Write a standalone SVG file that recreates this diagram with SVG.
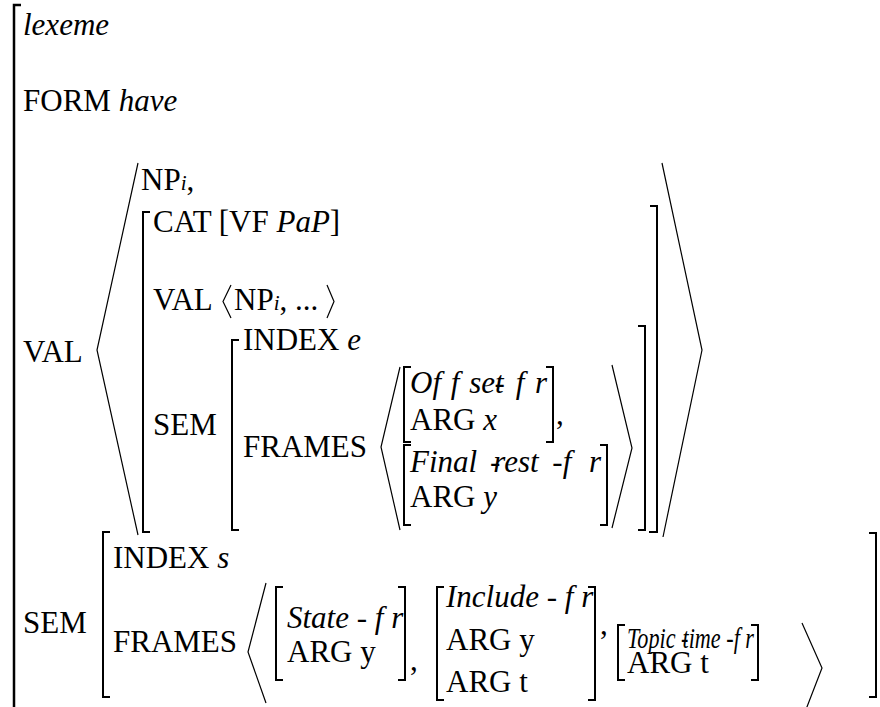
<svg xmlns="http://www.w3.org/2000/svg" width="880" height="707" viewBox="0 0 880 707">
<style>
text{font-family:"Liberation Serif","Times New Roman",serif;font-size:31px;fill:#000}
.i{font-style:italic}
.sub{font-style:italic;font-size:21px}
.br{fill:none;stroke:#000;stroke-width:2}
.ang{fill:none;stroke:#000;stroke-width:1.2}
</style>
<rect width="880" height="707" fill="#fff"/>
<g id="outer">
<path class="br" d="M21,5 H14 V707" style="stroke-width:2.5"/>
<text x="23" y="35" class="i">lexeme</text>
<text x="23" y="111">FORM <tspan class="i">have</tspan></text>
<text x="23" y="362">VAL</text>
<text x="23" y="633">SEM</text>
</g>
<g id="val-list">
<path class="ang" d="M138,163 L97,350 L138,535"/>
<path class="ang" d="M662,163 L702,350 L663,537"/>
<text x="141" y="190">NP<tspan class="sub">i</tspan>,</text>
</g>
<g id="val-item">
<path class="br" d="M150,212 H143 V532 H150"/>
<path class="br" d="M650,206 H657 V532 H649"/>
<text x="153" y="232">CAT [VF <tspan class="i">PaP</tspan>]</text>
<text x="153" y="310">VAL</text>
<path class="ang" d="M231,285 L223,301.5 L231,318"/>
<text x="234" y="310">NP<tspan class="sub">i</tspan>, ...</text>
<path class="ang" d="M327,285 L334,301.5 L327,318"/>
<text x="153" y="435">SEM</text>
</g>
<g id="val-sem">
<path class="br" d="M239,340 H232 V530 H239"/>
<path class="br" d="M638,326 H645 V530 H638"/>
<text x="243" y="350">INDEX <tspan class="i">e</tspan></text>
<text x="243" y="457">FRAMES</text>
<path class="ang" d="M400,367 L381,447 L400,530"/>
<path class="ang" d="M612,365 L632,448 L612,528"/>
</g>
<g id="offset-fr">
<path class="br" d="M411,367 H404 V442 H411"/>
<path class="br" d="M546,367 H553 V442 H546"/>
<text x="410" y="393" class="i">Of<tspan dx="2"> f</tspan><tspan dx="2"> set</tspan><tspan dx="-9">-</tspan><tspan dx="3"> f</tspan><tspan dx="3"> r</tspan></text>
<text x="410" y="430">ARG <tspan class="i">x</tspan></text>
<text x="556" y="424">,</text>
</g>
<g id="final-rest-fr">
<path class="br" d="M411,445 H404 V525 H411"/>
<path class="br" d="M600,445 H607 V525 H600"/>
<text x="410" y="472" class="i">Final<tspan dx="5"> -</tspan><tspan dx="-7">rest</tspan><tspan dx="6"> -f</tspan><tspan dx="10"> r</tspan></text>
<text x="410" y="507">ARG <tspan class="i">y</tspan></text>
</g>
<g id="sem">
<path class="br" d="M110,532 H103 V697 H110"/>
<path class="br" d="M869,533 H876 V697 H869"/>
<text x="113" y="568">INDEX <tspan class="i">s</tspan></text>
<text x="113" y="652">FRAMES</text>
<path class="ang" d="M266,583 L248,652 L266,703"/>
<path class="ang" d="M802,623 L822,668 L805,712"/>
</g>
<g id="state-fr">
<path class="br" d="M283,587 H276 V680 H283"/>
<path class="br" d="M398,587 H405 V680 H398"/>
<text x="287" y="628" class="i">State - f r</text>
<text x="287" y="662">ARG y</text>
<text x="410" y="670">,</text>
</g>
<g id="include-fr">
<path class="br" d="M444,587 H437 V700 H444"/>
<path class="br" d="M588,587 H595 V700 H588"/>
<text x="446" y="607" class="i">Include - f r</text>
<text x="446" y="650">ARG y</text>
<text x="446" y="692">ARG t</text>
<text x="600" y="634">,</text>
</g>
<g id="topic-time-fr">
<path class="br" d="M625,625 H618 V680 H625"/>
<path class="br" d="M751,625 H758 V680 H751"/>
<text x="627" y="648" class="i" style="font-size:30px" textLength="127" lengthAdjust="spacingAndGlyphs">Topic -<tspan dx="-8">time</tspan> -f r</text>
<text x="627" y="673">ARG t</text>
</g>
<g id="connectors"/>
</svg>
